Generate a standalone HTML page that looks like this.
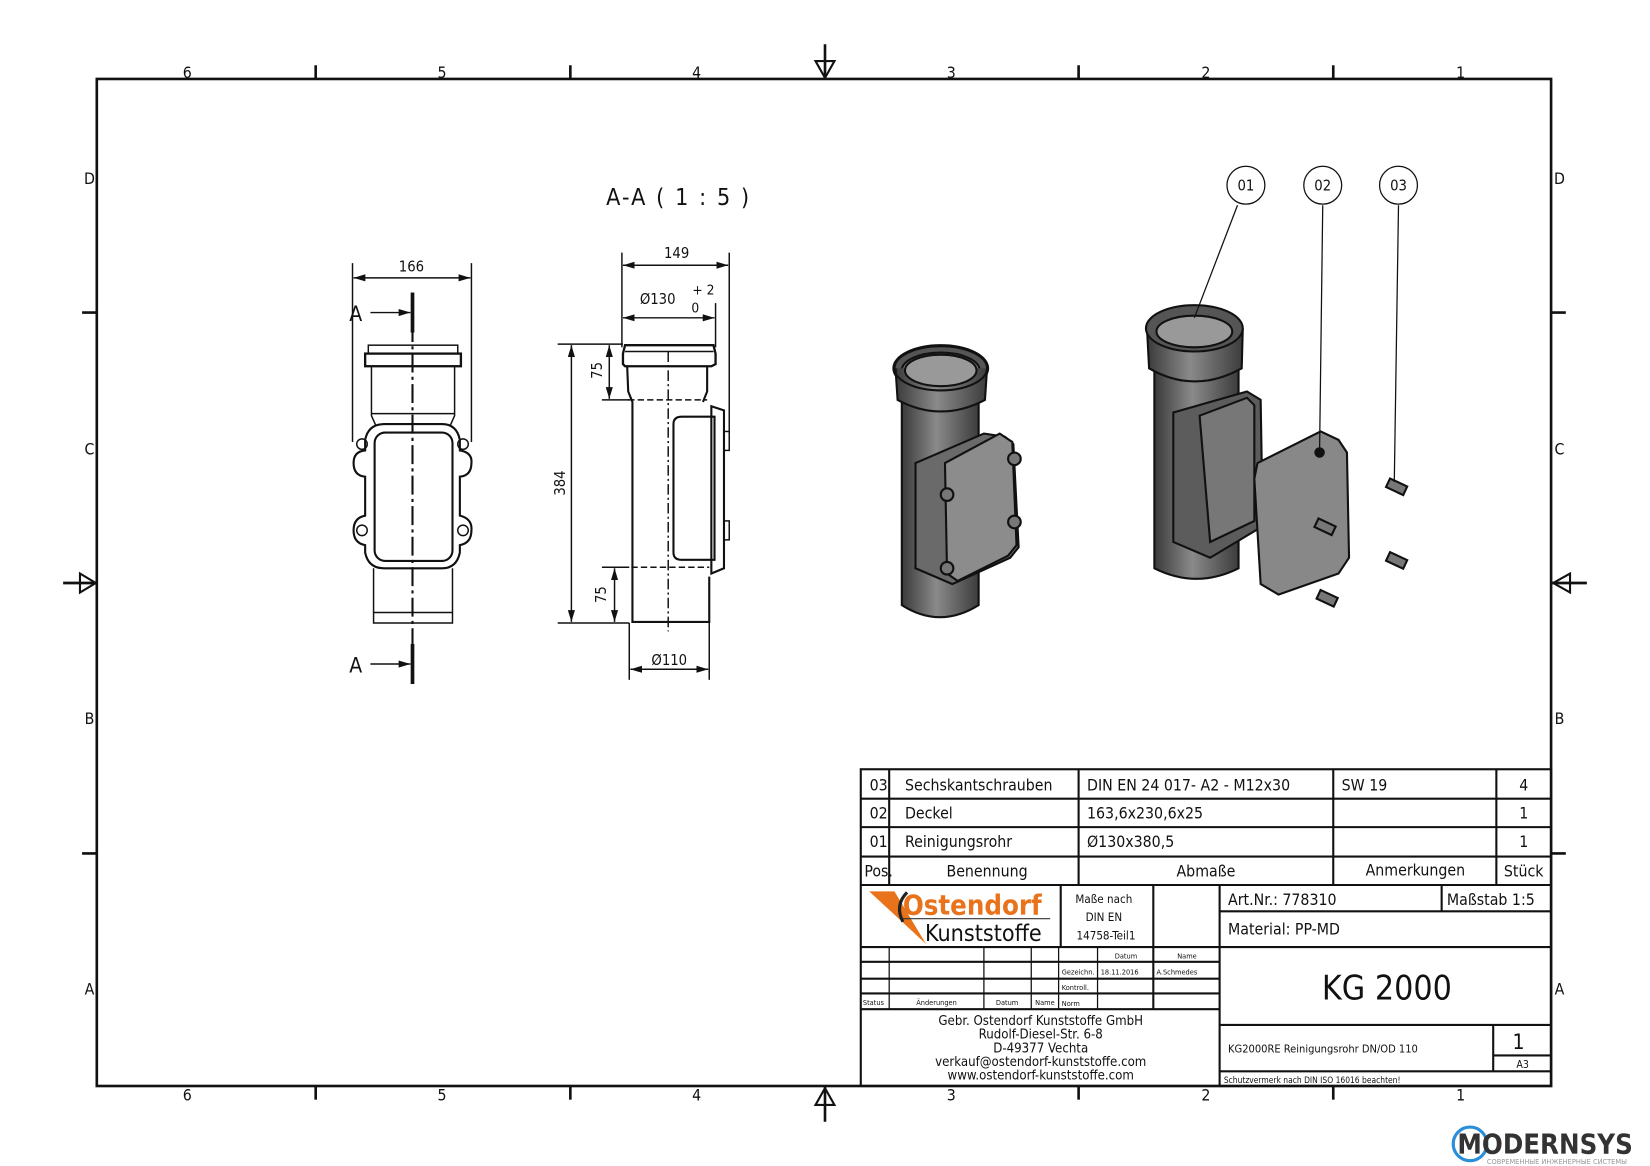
<!DOCTYPE html>
<html><head><meta charset="utf-8"><style>
html,body{margin:0;padding:0;background:#fff}
svg{display:block}
text{font-family:"DejaVu Sans Condensed","Liberation Sans",sans-serif;fill:#111}
</style></head><body>
<svg width="1650" height="1166" viewBox="0 0 1568 1108" xmlns="http://www.w3.org/2000/svg">
<defs>
<linearGradient id="g" x1="0" x2="1"><stop offset="0" stop-color="#3a3a3a"/><stop offset=".45" stop-color="#8a8a8a"/><stop offset="1" stop-color="#3c3c3c"/></linearGradient>
<marker id="ar" viewBox="0 0 10 10" refX="10" refY="5" markerWidth="8" markerHeight="8" orient="auto-start-reverse"><path d="M0,2L10,5L0,8z" fill="#111"/></marker>
</defs>
<rect x="0" y="0" width="1568" height="1108" fill="#fff"/>
<!-- frame -->
<rect x="92" y="75" width="1382" height="957" fill="none" stroke="#111" stroke-width="2.5"/>
<g stroke="#111" stroke-width="2.5">
<line x1="300" y1="62" x2="300" y2="75"/><line x1="542" y1="62" x2="542" y2="75"/><line x1="1025" y1="62" x2="1025" y2="75"/><line x1="1267" y1="62" x2="1267" y2="75"/>
<line x1="300" y1="1032" x2="300" y2="1045"/><line x1="542" y1="1032" x2="542" y2="1045"/><line x1="1025" y1="1032" x2="1025" y2="1045"/><line x1="1267" y1="1032" x2="1267" y2="1045"/>
<line x1="78" y1="297" x2="92" y2="297"/><line x1="78" y1="811" x2="92" y2="811"/><line x1="1474" y1="297" x2="1488" y2="297"/><line x1="1474" y1="811" x2="1488" y2="811"/>
<line x1="784" y1="42" x2="784" y2="75"/><line x1="784" y1="1032" x2="784" y2="1066"/>
<line x1="60" y1="554" x2="92" y2="554"/><line x1="1474" y1="554" x2="1508" y2="554"/>
</g>
<g fill="none" stroke="#111" stroke-width="2">
<path d="M775,58 L784,74 L793,58 Z"/><path d="M775,1050 L784,1034 L793,1050 Z"/>
<path d="M76,545 L91,554 L76,563 Z"/><path d="M1492,545 L1476,554 L1492,563 Z"/>
</g>
<g font-size="15" text-anchor="middle">
<text x="178" y="74">6</text><text x="420" y="74">5</text><text x="662" y="74">4</text><text x="904" y="74">3</text><text x="1146" y="74">2</text><text x="1388" y="74">1</text>
<text x="178" y="1046">6</text><text x="420" y="1046">5</text><text x="662" y="1046">4</text><text x="904" y="1046">3</text><text x="1146" y="1046">2</text><text x="1388" y="1046">1</text>
<text x="85" y="175">D</text><text x="85" y="432">C</text><text x="85" y="688">B</text><text x="85" y="945">A</text>
<text x="1482" y="175">D</text><text x="1482" y="432">C</text><text x="1482" y="688">B</text><text x="1482" y="945">A</text>
</g>
<text x="645" y="195" font-size="22" text-anchor="middle" letter-spacing="2">A-A ( 1 : 5 )</text>

<!-- front view -->
<g fill="none" stroke="#111" stroke-width="1.4">
<line x1="335" y1="250" x2="335" y2="420"/><line x1="448" y1="250" x2="448" y2="420"/>
<line x1="336" y1="264" x2="447" y2="264" marker-start="url(#ar)" marker-end="url(#ar)"/>
<rect x="350" y="328" width="85" height="8"/>
<rect x="347" y="336" width="91" height="12" stroke-width="2.2"/>
<path d="M353,348 L353,395 L357,404 M432,348 L432,395 L428,404"/>
<line x1="353" y1="393" x2="432" y2="393"/>
<path d="M365,403 L420,403 Q434,403 437,418 L437,428 Q449,430 448,440 Q448,452 437,453 L437,490 Q449,493 448,504 Q448,516 437,518 L437,525 Q434,540 420,540 L365,540 Q350,540 347,525 L347,518 Q336,516 336,504 Q336,492 347,490 L347,453 Q336,452 336,440 Q336,429 347,428 L347,418 Q350,403 365,403 Z" stroke-width="2"/>
<rect x="356" y="411" width="74" height="122" rx="10" stroke-width="2"/>
<circle cx="344" cy="422" r="5"/><circle cx="440" cy="422" r="5"/><circle cx="344" cy="504" r="5"/><circle cx="440" cy="504" r="5"/>
<path d="M355,540 L355,592 L430,592 L430,540"/><line x1="355" y1="582" x2="430" y2="582"/>
<line x1="392" y1="278" x2="392" y2="648" stroke-width="2" stroke-dasharray="18,4,3,4"/>
<line x1="392" y1="278" x2="392" y2="316" stroke-width="3.5"/><line x1="392" y1="612" x2="392" y2="650" stroke-width="3.5"/>
<line x1="352" y1="297" x2="390" y2="297" marker-end="url(#ar)"/><line x1="352" y1="631" x2="390" y2="631" marker-end="url(#ar)"/>
</g>
<text x="391" y="258" font-size="14" text-anchor="middle">166</text>
<text x="338" y="305" font-size="20" text-anchor="middle">A</text><text x="338" y="639" font-size="20" text-anchor="middle">A</text>

<!-- section view -->
<g fill="none" stroke="#111" stroke-width="1.4">
<line x1="591" y1="240" x2="591" y2="330"/><line x1="693" y1="240" x2="693" y2="420"/><line x1="680" y1="288" x2="680" y2="330"/>
<line x1="592" y1="252" x2="692" y2="252" marker-start="url(#ar)" marker-end="url(#ar)"/>
<line x1="592" y1="302" x2="679" y2="302" marker-start="url(#ar)" marker-end="url(#ar)"/>
<line x1="530" y1="327" x2="592" y2="327"/><line x1="530" y1="592" x2="598" y2="592"/>
<line x1="572" y1="380" x2="598" y2="380"/><line x1="572" y1="539" x2="598" y2="539"/>
<line x1="543" y1="328" x2="543" y2="591" marker-start="url(#ar)" marker-end="url(#ar)"/>
<line x1="579" y1="328" x2="579" y2="379" marker-start="url(#ar)" marker-end="url(#ar)"/>
<line x1="584" y1="540" x2="584" y2="591" marker-start="url(#ar)" marker-end="url(#ar)"/>
<line x1="598" y1="592" x2="598" y2="646"/><line x1="674" y1="592" x2="674" y2="646"/>
<line x1="599" y1="636" x2="673" y2="636" marker-start="url(#ar)" marker-end="url(#ar)"/>
<path d="M594,328 L678,328 L680,336 L680,346 L676,348 L594,348 L592,346 L592,336 Z" stroke-width="2.2"/>
<line x1="594" y1="334" x2="678" y2="334"/>
<path d="M596,348 L597,372 L601,382 L601,591 L674,591 L674,548 M672,348 L672,372 L668,382" stroke-width="2"/>
<line x1="597" y1="380" x2="672" y2="380" stroke-dasharray="6,3"/><line x1="600" y1="539" x2="674" y2="539" stroke-dasharray="6,3"/>
<line x1="635" y1="334" x2="635" y2="600" stroke-dasharray="10,3,2,3"/>
<path d="M676,386 L688,390 L688,540 L676,545 L676,386 Z" stroke-width="2"/>
<path d="M648,396 L679,396 L679,532 L648,532 Q640,532 640,525 L640,403 Q640,396 648,396 Z" stroke-width="2"/>
<rect x="688" y="410" width="5" height="18"/><rect x="688" y="495" width="5" height="18"/>
</g>
<text x="643" y="245" font-size="14" text-anchor="middle">149</text>
<text x="625" y="289" font-size="14" text-anchor="middle">Ø130</text><text x="658" y="280" font-size="13">+ 2</text><text x="657" y="297" font-size="13">0</text>
<text x="636" y="632" font-size="14" text-anchor="middle">Ø110</text>
<text font-size="14" text-anchor="middle" transform="translate(537,459) rotate(-90)">384</text>
<text font-size="14" text-anchor="middle" transform="translate(572,352) rotate(-90)">75</text>
<text font-size="14" text-anchor="middle" transform="translate(576,565) rotate(-90)">75</text>

<!-- 3D assembled -->
<g stroke="#111" stroke-width="2">
<path d="M857,370 L857,575 Q893,598 930,575 L930,370 Z" fill="url(#g)"/>
<ellipse cx="894" cy="350" rx="45" ry="22" fill="#555"/>
<ellipse cx="894" cy="352" rx="37" ry="17" fill="#8a8a8a"/>
<path d="M851,350 L853,380 Q894,402 936,380 L938,350" fill="url(#g)"/>
<ellipse cx="894" cy="350" rx="44" ry="21" fill="none"/>
<ellipse cx="894" cy="352" rx="34" ry="15" fill="#999"/>
<path d="M870,440 L935,412 L955,415 L963,422 L968,520 L960,530 L905,555 L870,540 Z" fill="#6a6a6a"/>
<path d="M898,440 L950,412 L962,420 L966,518 L958,528 L910,552 L900,545 Z" fill="#8c8c8c"/>
<circle cx="900" cy="470" r="6" fill="#777"/><circle cx="964" cy="436" r="6" fill="#777"/><circle cx="964" cy="496" r="6" fill="#777"/><circle cx="900" cy="540" r="6" fill="#777"/>
</g>
<!-- 3D exploded -->
<g stroke="#111" stroke-width="2">
<path d="M1097,330 L1097,540 Q1137,560 1177,540 L1177,330 Z" fill="url(#g)"/>
<path d="M1090,312 L1092,350 Q1135,375 1180,350 L1181,312" fill="url(#g)"/>
<ellipse cx="1135" cy="312" rx="46" ry="22" fill="#555"/>
<ellipse cx="1135" cy="315" rx="36" ry="15" fill="#999"/>
<path d="M1115,392 L1185,372 L1198,380 L1200,500 L1150,530 L1115,515 Z" fill="#5c5c5c"/>
<path d="M1140,395 L1185,378 L1192,385 L1192,495 L1150,515 Z" fill="#777"/>
<path d="M1195,440 L1255,410 L1272,418 L1280,430 L1282,530 L1272,545 L1215,565 L1198,555 L1192,455 Z" fill="#888"/>
<circle cx="1254" cy="430" r="4" fill="#111"/>
<g fill="#777"><rect x="1318" y="458" width="18" height="9" transform="rotate(25 1327 463)"/><rect x="1318" y="528" width="18" height="9" transform="rotate(25 1327 533)"/><rect x="1252" y="564" width="18" height="9" transform="rotate(25 1261 569)"/><rect x="1250" y="496" width="18" height="9" transform="rotate(25 1259 501)"/></g>
</g>
<g fill="none" stroke="#111" stroke-width="1.2">
<line x1="1176" y1="195" x2="1135" y2="302"/><line x1="1257" y1="195" x2="1254" y2="428"/><line x1="1329" y1="195" x2="1325" y2="458"/>
<circle cx="1184" cy="176" r="18"/><circle cx="1257" cy="176" r="18"/><circle cx="1329" cy="176" r="18"/>
</g>
<g font-size="14" text-anchor="middle"><text x="1184" y="181">01</text><text x="1257" y="181">02</text><text x="1329" y="181">03</text></g>

<!-- parts list -->
<g fill="none" stroke="#111" stroke-width="2">
<rect x="818" y="731" width="656" height="301"/>
<line x1="818" y1="759" x2="1474" y2="759"/><line x1="818" y1="786" x2="1474" y2="786"/><line x1="818" y1="814" x2="1474" y2="814"/><line x1="818" y1="841" x2="1474" y2="841"/>
<line x1="845" y1="731" x2="845" y2="841"/><line x1="1025" y1="731" x2="1025" y2="841"/><line x1="1267" y1="731" x2="1267" y2="841"/><line x1="1422" y1="731" x2="1422" y2="841"/>
<line x1="1008" y1="841" x2="1008" y2="900"/><line x1="1096" y1="841" x2="1096" y2="959"/><line x1="1159" y1="841" x2="1159" y2="1032"/>
<line x1="1159" y1="866" x2="1474" y2="866"/><line x1="1370" y1="841" x2="1370" y2="866"/>
<line x1="818" y1="900" x2="1474" y2="900"/><line x1="1159" y1="974" x2="1474" y2="974"/>
<line x1="1419" y1="974" x2="1419" y2="1018"/><line x1="1419" y1="1003" x2="1474" y2="1003"/><line x1="1159" y1="1018" x2="1474" y2="1018"/>
<line x1="818" y1="914" x2="1159" y2="914"/><line x1="818" y1="930" x2="1159" y2="930"/><line x1="818" y1="944" x2="1159" y2="944"/><line x1="818" y1="959" x2="1159" y2="959"/>
</g>
<g fill="none" stroke="#111" stroke-width="1.2">
<line x1="845" y1="900" x2="845" y2="959"/><line x1="935" y1="900" x2="935" y2="959"/><line x1="980" y1="900" x2="980" y2="959"/><line x1="1006" y1="900" x2="1006" y2="959"/><line x1="1043" y1="900" x2="1043" y2="959"/>
</g>
<g font-size="15">
<text x="835" y="751" text-anchor="middle">03</text><text x="860" y="751">Sechskantschrauben</text><text x="1033" y="751">DIN EN 24 017- A2 - M12x30</text><text x="1275" y="751">SW 19</text><text x="1448" y="751" text-anchor="middle">4</text>
<text x="835" y="778" text-anchor="middle">02</text><text x="860" y="778">Deckel</text><text x="1033" y="778">163,6x230,6x25</text><text x="1448" y="778" text-anchor="middle">1</text>
<text x="835" y="805" text-anchor="middle">01</text><text x="860" y="805">Reinigungsrohr</text><text x="1033" y="805">Ø130x380,5</text><text x="1448" y="805" text-anchor="middle">1</text>
<text x="835" y="833" text-anchor="middle">Pos.</text><text x="938" y="833" text-anchor="middle">Benennung</text><text x="1146" y="833" text-anchor="middle">Abmaße</text><text x="1345" y="832" text-anchor="middle">Anmerkungen</text><text x="1448" y="833" text-anchor="middle">Stück</text>
<text x="1167" y="860">Art.Nr.: 778310</text><text x="1375" y="860">Maßstab 1:5</text>
<text x="1167" y="888">Material: PP-MD</text>
</g>
<g font-size="11" text-anchor="middle"><text x="1049" y="858">Maße nach</text><text x="1049" y="875">DIN EN</text><text x="1051" y="893">14758-Teil1</text></g>
<text x="1318" y="950" font-size="32" text-anchor="middle">KG 2000</text>
<text x="1167" y="1000" font-size="10.5">KG2000RE Reinigungsrohr DN/OD 110</text>
<text x="1443" y="997" font-size="20" text-anchor="middle">1</text><text x="1447" y="1015" font-size="10" text-anchor="middle">A3</text>
<text x="1163" y="1029" font-size="8">Schutzvermerk nach DIN ISO 16016 beachten!</text>
<g font-size="7"><text x="1070" y="911" text-anchor="middle">Datum</text><text x="1128" y="911" text-anchor="middle">Name</text><text x="1009" y="926">Gezeichn.</text><text x="1046" y="926">18.11.2016</text><text x="1099" y="926">A.Schmedes</text><text x="1009" y="941">Kontroll.</text><text x="1009" y="956">Norm</text><text x="820" y="955">Status</text><text x="890" y="955" text-anchor="middle">Änderungen</text><text x="957" y="955" text-anchor="middle">Datum</text><text x="993" y="955" text-anchor="middle">Name</text></g>
<g font-size="12.5" text-anchor="middle"><text x="989" y="974">Gebr. Ostendorf Kunststoffe GmbH</text><text x="989" y="987">Rudolf-Diesel-Str. 6-8</text><text x="989" y="1000">D-49377 Vechta</text><text x="989" y="1013">verkauf@ostendorf-kunststoffe.com</text><text x="989" y="1026">www.ostendorf-kunststoffe.com</text></g>
<!-- logo -->
<path d="M826,847 L850,847 L880,897 Z" fill="#e8731a"/>
<path d="M862,848 Q850,860 858,876" fill="none" stroke="#222" stroke-width="3"/>
<text x="858" y="869" font-size="26" font-weight="bold" style="fill:#e8731a">Ostendorf</text>
<line x1="858" y1="873" x2="998" y2="873" stroke="#333" stroke-width="1"/>
<text x="879" y="894" font-size="22">Kunststoffe</text>
<!-- watermark -->
<circle cx="1397" cy="1087" r="16" fill="none" stroke="#2a8fd8" stroke-width="3"/>
<text x="1385" y="1096" font-size="26" font-weight="bold" style="fill:#333">MODERNSYS</text>
<text x="1413" y="1106" font-size="7" style="fill:#999">СОВРЕМЕННЫЕ ИНЖЕНЕРНЫЕ СИСТЕМЫ</text>
</svg>
</body></html>
